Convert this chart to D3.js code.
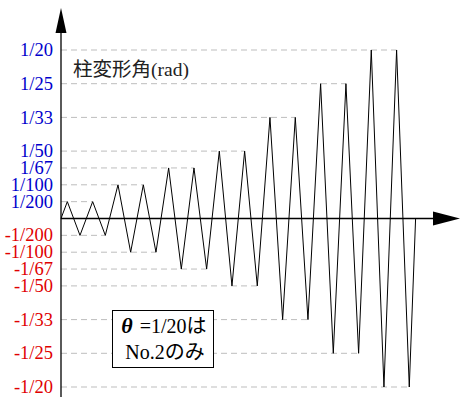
<!DOCTYPE html>
<html>
<head>
<meta charset="utf-8">
<script src="https://cdn.jsdelivr.net/npm/d3@7"></script>
<style>
  html, body { margin: 0; padding: 0; background: #fff; }
  svg { display: block; }
</style>
</head>
<body>
<div id="chart"></div>
<script>
// Loading protocol: story drift angle vs. loading step

// tick levels (rad) and their labels
const levels = [0.005, 0.01, 0.015, 0.02, 0.03, 0.04, 0.05];
const posLabels = ['1/200', '1/100', '1/67', '1/50', '1/33', '1/25', '1/20'];
const negLabels = ['-1/200', '-1/100', '-1/67', '-1/50', '-1/33', '-1/25', '-1/20'];

// loading history: quarter-cycle step and drift angle at each turning point
const step = [0, 1, 3, 5, 7, 9, 11, 13, 15, 17, 19, 21, 23, 25, 27,
              29, 31, 33, 35, 37, 39, 41, 43, 45, 47, 49, 51, 53, 55, 56];
const drift = [0, 0.005, -0.005, 0.005, -0.005, 0.01, -0.01, 0.01, -0.01,
               0.015, -0.015, 0.015, -0.015, 0.02, -0.02, 0.02, -0.02,
               0.03, -0.03, 0.03, -0.03, 0.04, -0.04, 0.04, -0.04,
               0.05, -0.05, 0.05, -0.05, 0];

const axisTitle = '柱変形角(rad)';
const noteLine2 = 'No.2のみ';

const W = 460, H = 397;
const x0 = 61;
const serif = "'Liberation Serif', 'Times New Roman', Times, 'DejaVu Serif', serif, 'Noto Sans CJK JP'";

const svg = d3.select('#chart').append('svg')
    .attr('width', W)
    .attr('height', H);

const data = step.map((s, i) => ({ step: s, drift: drift[i] }));

const xScale = d3.scaleLinear()
    .domain([0, d3.max(step)])
    .range([x0, 415.6]);

const yScale = d3.scaleLinear()
    .domain([-0.05, 0.05])
    .range([387, 50]);

// dashed guide lines, from the axis to the last peak at that level
const grid = svg.append('g').attr('class', 'grid');
levels.forEach(v => {
    [v, -v].forEach(val => {
        const last = data.filter(d => d.drift === val).pop();
        grid.append('line')
            .attr('x1', x0)
            .attr('x2', xScale(last.step))
            .attr('y1', yScale(val))
            .attr('y2', yScale(val))
            .attr('stroke', '#bdbdbd')
            .attr('stroke-width', 1)
            .attr('stroke-dasharray', '6,4');
    });
});

// note box (covers the guides)
const note = svg.append('g').attr('class', 'note');
note.append('rect')
    .attr('x', 112.5)
    .attr('y', 310.5)
    .attr('width', 101)
    .attr('height', 57)
    .attr('fill', '#fff')
    .attr('stroke', '#000')
    .attr('stroke-width', 1);

const t1 = note.append('text')
    .attr('x', 164)
    .attr('y', 333)
    .attr('text-anchor', 'middle')
    .style('font-family', serif)
    .style('font-size', '20px')
    .style('fill', '#000');
t1.append('tspan')
    .style('font-weight', 'bold')
    .style('font-style', 'italic')
    .style('font-size', '22px')
    .text('θ');
t1.append('tspan').attr('dx', 2).text(' =1/20は');

note.append('text')
    .attr('x', 165)
    .attr('y', 359)
    .attr('text-anchor', 'middle')
    .style('font-family', serif)
    .style('font-size', '20px')
    .style('fill', '#000')
    .text(noteLine2);

// waveform
const line = d3.line()
    .x(d => xScale(d.step))
    .y(d => yScale(d.drift));

svg.append('path')
    .datum(data)
    .attr('d', line)
    .attr('fill', 'none')
    .attr('stroke', '#000')
    .attr('stroke-width', 1);

// axes with arrow heads
const y0 = yScale(0);
svg.append('line')
    .attr('x1', x0).attr('x2', 434)
    .attr('y1', y0).attr('y2', y0)
    .attr('stroke', '#000')
    .attr('stroke-width', 1.3);
svg.append('path')
    .attr('d', `M433,${y0 - 7}L460,${y0}L433,${y0 + 7}Z`)
    .attr('fill', '#000');

svg.append('line')
    .attr('x1', x0).attr('x2', x0)
    .attr('y1', H).attr('y2', 32)
    .attr('stroke', '#000')
    .attr('stroke-width', 1.3);
svg.append('path')
    .attr('d', `M${x0 - 5.5},33L${x0},8L${x0 + 5.5},33Z`)
    .attr('fill', '#000');

// tick labels
const labels = svg.append('g')
    .style('font-family', serif)
    .style('font-size', '18.5px')
    .attr('text-anchor', 'end');

levels.forEach((v, i) => {
    labels.append('text')
        .attr('x', 53)
        .attr('y', yScale(v))
        .attr('dy', '0.33em')
        .style('fill', '#0000cc')
        .text(posLabels[i]);
    labels.append('text')
        .attr('x', 53)
        .attr('y', yScale(-v))
        .attr('dy', '0.33em')
        .style('fill', '#e00000')
        .text(negLabels[i]);
});

// axis title
svg.append('text')
    .attr('x', 73)
    .attr('y', 76)
    .style('font-family', serif)
    .style('font-size', '19.5px')
    .style('fill', '#222')
    .text(axisTitle);
</script>
</body>
</html>
